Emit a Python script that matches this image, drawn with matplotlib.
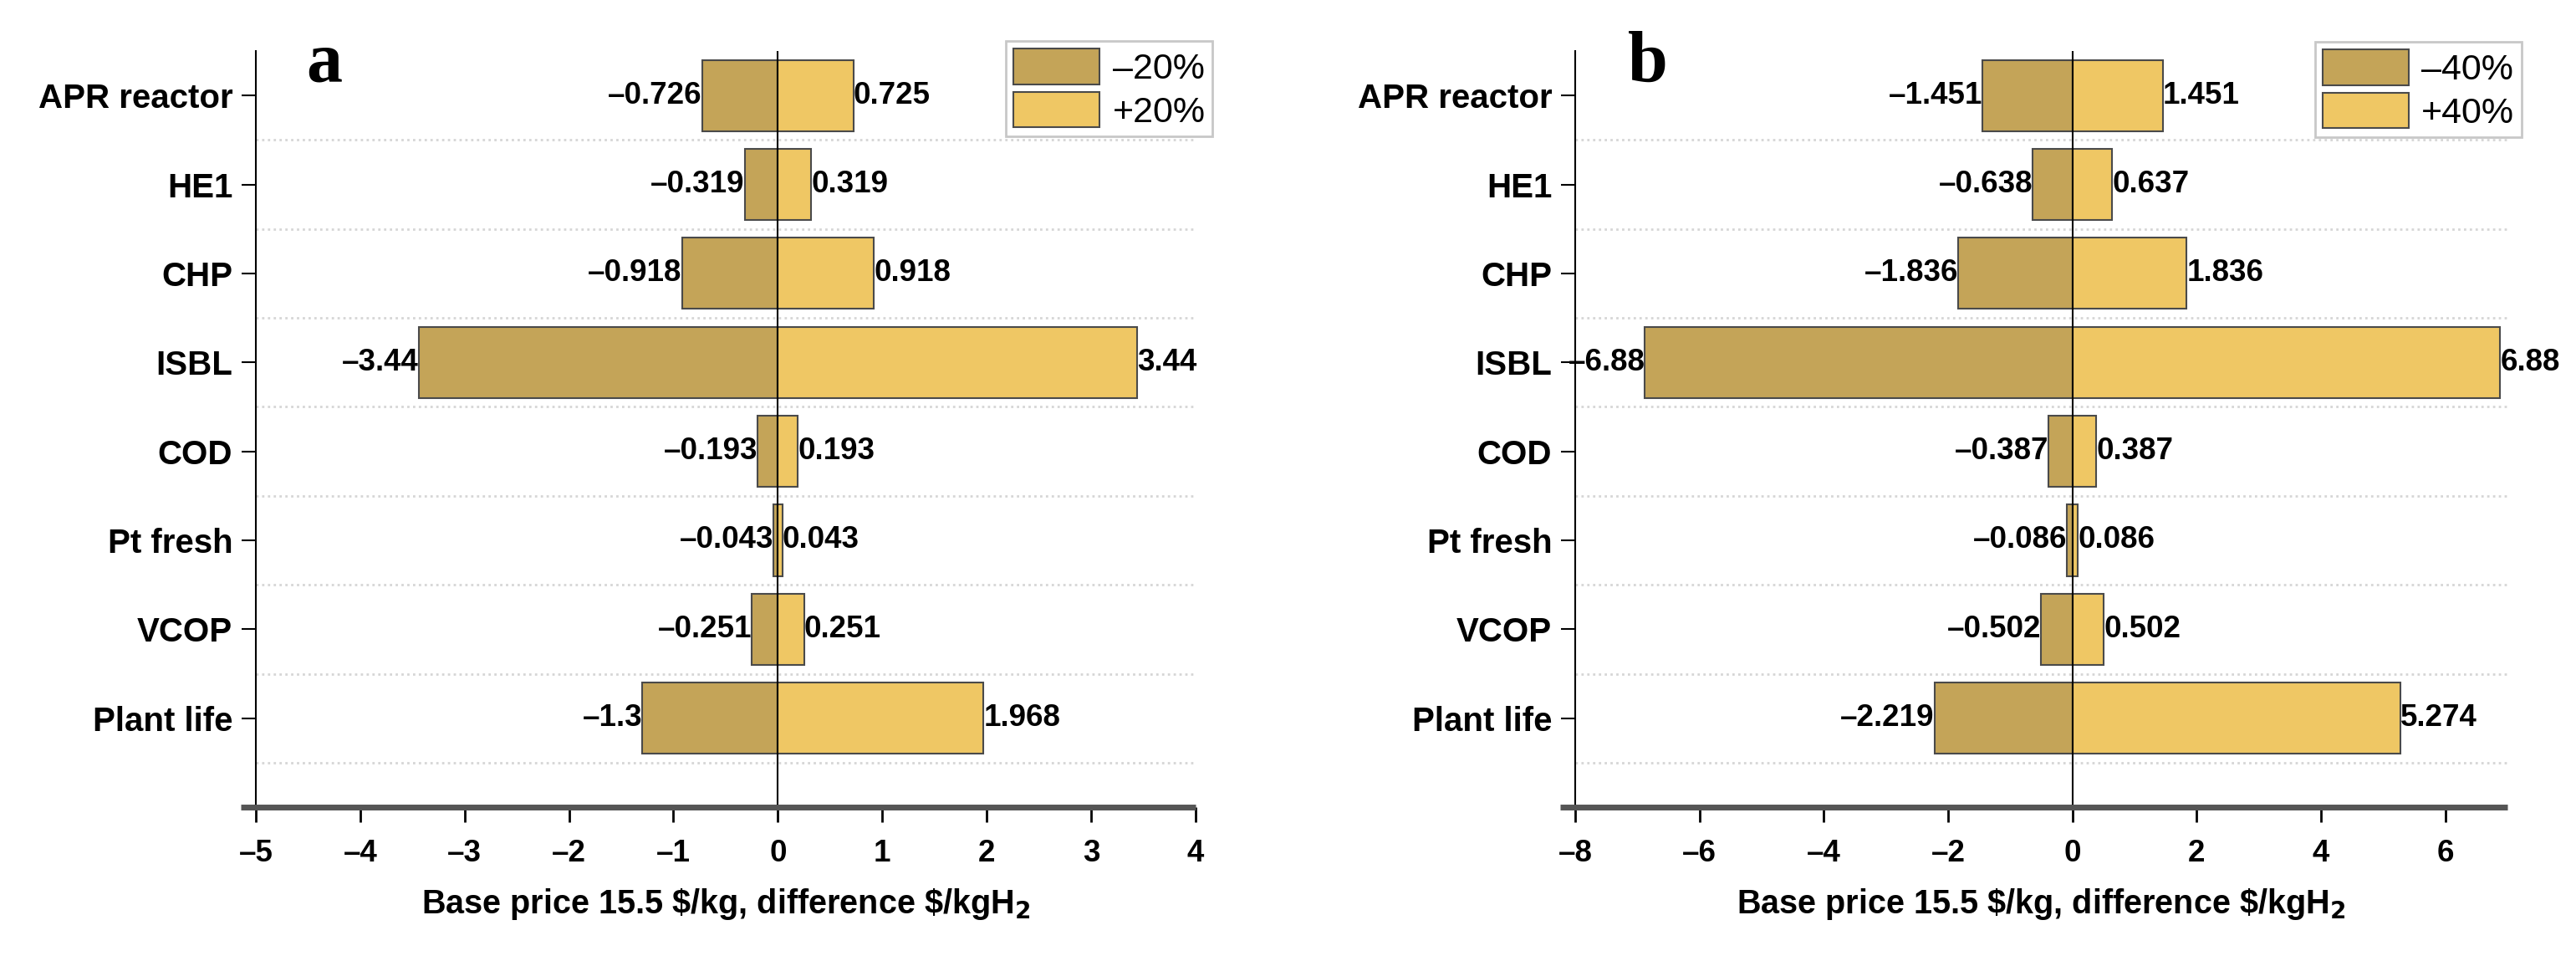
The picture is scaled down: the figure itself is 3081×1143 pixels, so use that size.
import matplotlib
matplotlib.use("Agg")
import matplotlib.pyplot as plt
import numpy as np

plt.rcParams['font.family'] = ['Liberation Sans', 'DejaVu Sans']

categories = ["APR reactor", "HE1", "CHP", "ISBL", "COD", "Pt fresh", "VCOP", "Plant life"]

neg_20 = [-0.726, -0.319, -0.918, -3.44, -0.193, -0.043, -0.251, -1.3]
pos_20 = [0.725, 0.319, 0.918, 3.44, 0.193, 0.043, 0.251, 1.968]

neg_40 = [-1.451, -0.638, -1.836, -6.88, -0.387, -0.086, -0.502, -2.219]
pos_40 = [1.451, 0.637, 1.836, 6.88, 0.387, 0.086, 0.502, 5.274]

panels = [
    dict(neg=neg_20, pos=pos_20, labels=["–20%", "+20%"], xlim=(-5, 4),
         xticks=np.arange(-5, 5, 1), letter="a",
         rect=[0.0993, 0.1557, 0.3648, 0.7909], letter_x=0.119, leg=(1.018, 1.013)),
    dict(neg=neg_40, pos=pos_40, labels=["–40%", "+40%"], xlim=(-8, 7),
         xticks=np.arange(-8, 7, 2), letter="b",
         rect=[0.6115, 0.1557, 0.3619, 0.7909], letter_x=0.632, leg=(1.015, 1.012)),
]

dark = "#C4A458"
light = "#EFC764"
edge = "#4a4a4a"

fig = plt.figure(figsize=(30.81, 11.43), dpi=100)

for p in panels:
    ax = fig.add_axes(p["rect"])
    y = np.arange(len(categories))
    ax.barh(y, p["neg"], height=0.8, color=dark, edgecolor=edge, linewidth=1.5,
            label=p["labels"][0], zorder=3)
    ax.barh(y, p["pos"], height=0.8, color=light, edgecolor=edge, linewidth=1.5,
            label=p["labels"][1], zorder=3)

    for yi, v in zip(y, p["neg"]):
        ax.text(v, yi, f"{v:g}".replace("-", "–"), ha="right", va="center",
                fontsize=26.5, fontweight="bold", zorder=5)
    for yi, v in zip(y, p["pos"]):
        ax.text(v, yi, f"{v:g}", ha="left", va="center",
                fontsize=26.5, fontweight="bold", zorder=5)

    # dotted separators between categories
    for g in np.arange(0.5, len(categories), 1):
        ax.axhline(g, color="#d6d6d6", linestyle=(0, (1, 1.5)), linewidth=2, zorder=1)

    ax.axvline(0, color="black", linewidth=1.5, zorder=4)

    ax.set_xlim(*p["xlim"])
    ax.set_ylim(8, -0.5)
    ax.set_xticks(p["xticks"])
    ax.set_xticklabels([str(t).replace("-", "–") for t in p["xticks"]])
    ax.set_yticks(y)
    ax.set_yticklabels(categories)

    for s in ["top", "right"]:
        ax.spines[s].set_visible(False)
    ax.spines["left"].set_linewidth(1.5)
    ax.spines["bottom"].set_visible(False)
    ax.plot([-0.016, 1.0], [0, 0], transform=ax.transAxes, color="#555555",
            linewidth=5, clip_on=False, zorder=6, solid_capstyle="butt")

    ax.tick_params(axis="x", length=13, width=2, pad=14, labelsize=26.5)
    ax.tick_params(axis="y", length=12, width=1.5, pad=8, labelsize=29)
    for t in ax.get_xticklabels() + ax.get_yticklabels():
        t.set_fontweight("bold")

    ax.set_xlabel("Base price 15.5 \$/kg, difference \$/kgH$_\\mathbf{2}$",
                  fontsize=28.5, fontweight="bold", labelpad=16)

    leg = ax.legend(loc="upper right", bbox_to_anchor=p["leg"], borderaxespad=0,
                    fontsize=31, handlelength=2.4, handleheight=1.15,
                    labelspacing=0.16, borderpad=0.2, handletextpad=0.35,
                    fancybox=False, framealpha=1, edgecolor="#c8c8c8")
    leg.get_frame().set_linewidth(2)

    fig.text(p["letter_x"], 0.915, p["letter"], fontsize=62, fontweight="bold",
             family=["Liberation Serif", "DejaVu Serif"], ha="left", va="baseline")

fig.savefig("out.png", dpi=100)
